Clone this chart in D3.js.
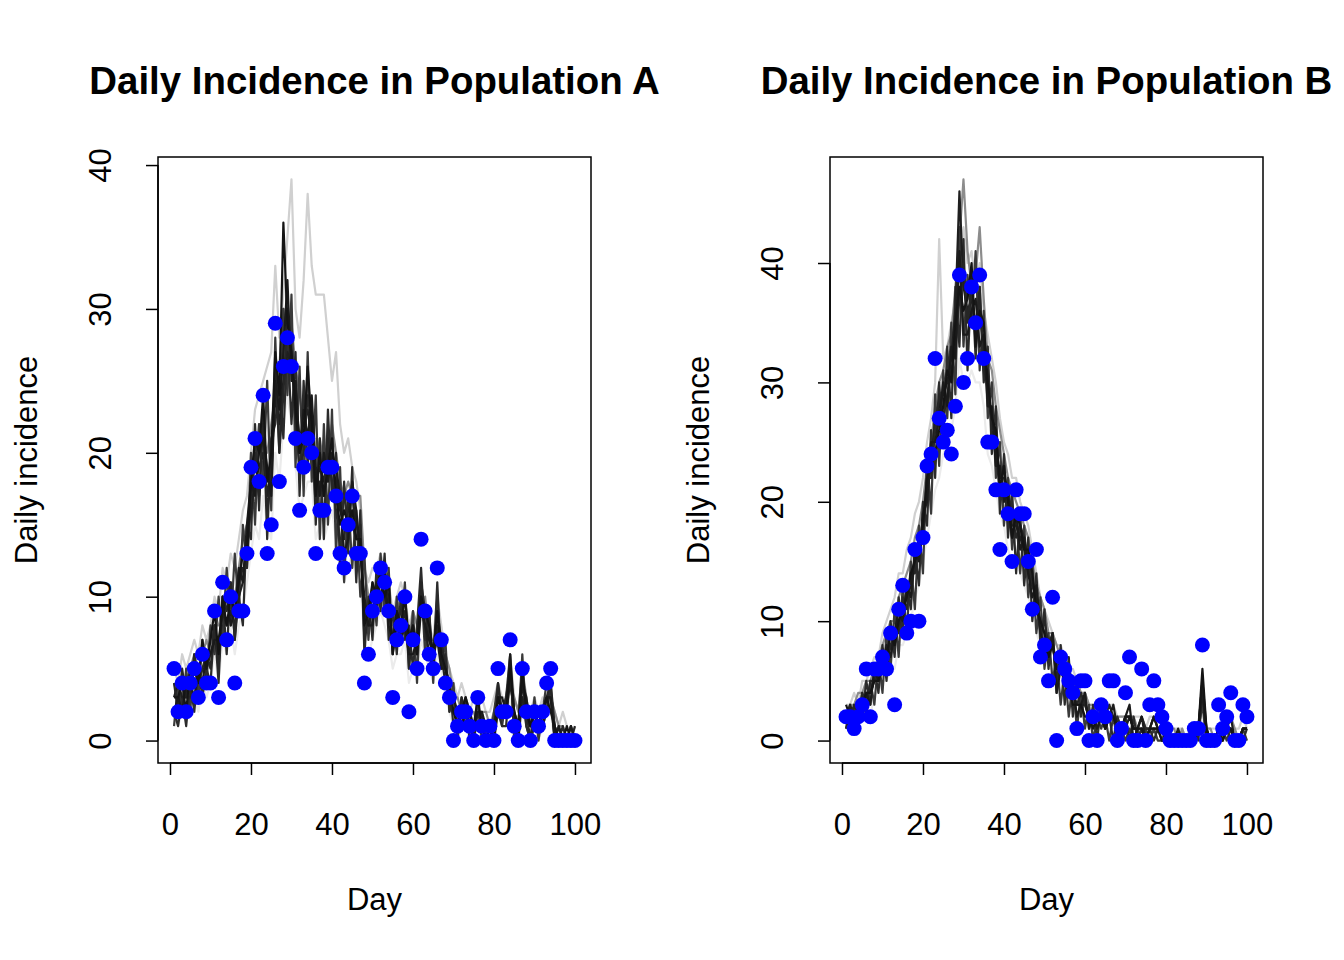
<!DOCTYPE html>
<html><head><meta charset="utf-8">
<script src="https://cdn.jsdelivr.net/npm/d3@7"></script>
<style>
body{margin:0;background:#fff}
svg{display:block}
text{font-family:"Liberation Sans",Arial,Helvetica,sans-serif;fill:#000}
</style>
</head><body>
<svg id="chart" width="1344" height="960"></svg>
<script>
// ---------- data ----------
const days = d3.range(1, 101);
const xTicks = [0, 20, 40, 60, 80, 100];
const yTicksA = [0, 10, 20, 30, 40];
const yTicksB = [0, 10, 20, 30, 40];
const titles = ["Daily Incidence in Population A", "Daily Incidence in Population B"];
const xLabel = "Day";
const yLabel = "Daily incidence";

// observed daily incidence (blue points)
const obsA = [5,2,4,2,4,5,3,6,4,4, 9,3,11,7,10,4,9,9,13,19, 21,18,24,13,15,29,18,26,28,26,
  21,16,19,21,20,13,16,16,19,19, 17,13,12,15,17,13,13,4,6,9, 10,12,11,9,3,7,8,10,2,7,
  5,14,9,6,5,12,7,4,3,0, 1,2,2,1,0,3,1,0,1,0, 5,2,2,7,1,0,5,2,0,2, 1,2,4,5,0,0,0,0,0,0];
const obsB = [2,2,1,2,3,6,2,6,6,7, 6,9,3,11,13,9,10,16,10,17, 23,24,32,27,25,26,24,28,39,30,
  32,38,35,39,32,25,25,21,16,21, 19,15,21,19,19,15,11,16,7,8, 5,12,0,7,6,5,4,1,5,5,
  0,2,0,3,2,5,5,0,1,4, 7,0,0,6,0,3,5,3,2,1, 0,0,0,0,0,0,1,1,8,0, 0,0,3,1,2,4,0,0,3,2];

// simulated trajectories, population A
const simA1 = [3,4,3,3,5,4,4,5,5,6, 7,6,9,8,9,8,10,11,14,16, 18,19,20,17,19,24,22,25,27,26,
  24,21,22,23,21,18,19,18,20,19, 18,16,15,16,17,15,14,9,8,9, 10,11,10,9,7,8,8,9,6,7,
  6,9,8,6,5,8,6,4,3,2, 2,2,2,1,1,2,1,1,1,1, 3,2,2,4,2,1,3,2,1,2, 1,2,3,3,1,0,0,0,0,0];
const simA2 = [4,2,5,3,3,6,4,5,6,5, 8,5,10,9,11,7,11,12,12,17, 20,17,22,16,18,26,20,24,30,27,
  22,19,20,24,22,16,18,17,21,18, 16,14,14,17,15,14,15,7,9,10, 9,12,11,10,6,8,9,10,5,8,
  6,11,9,7,6,9,7,5,4,1, 1,3,2,2,0,2,1,0,1,0, 4,2,3,5,1,1,4,2,0,2, 1,2,3,4,1,0,1,0,0,1];
const simA3 = [2,3,2,4,4,3,5,4,6,6, 7,7,9,10,8,9,12,11,15,18, 17,20,21,19,17,25,23,27,32,25,
  25,20,23,21,24,19,17,20,18,20, 19,17,13,14,18,16,13,10,8,8, 11,10,12,8,7,9,7,8,6,6,
  7,10,8,7,6,7,5,5,3,3, 2,1,2,1,1,2,2,1,0,1, 3,3,2,6,2,0,4,3,1,1, 2,1,3,3,0,1,0,0,1,0];
const simA4 = [3,3,4,2,5,5,4,7,5,7, 9,6,10,8,10,9,11,13,13,18, 21,20,24,18,20,27,24,36,29,27,
  23,20,21,26,22,17,20,17,19,21, 17,15,16,15,16,14,14,8,9,11, 10,12,10,11,6,9,8,10,7,8,
  6,10,9,8,6,9,6,5,4,2, 1,2,3,2,1,3,1,1,1,0, 3,2,2,5,2,1,5,2,1,2, 1,2,3,2,1,0,0,1,0,0];
const simA5 = [4,3,3,4,5,6,5,6,7,6, 8,8,9,11,10,10,12,14,15,17, 19,22,21,20,22,24,26,30,27,29,
  26,24,22,25,20,19,21,19,18,22, 20,18,17,18,17,17,17,12,10,9, 11,10,9,10,8,9,10,8,7,9,
  8,9,10,7,7,8,7,6,5,3, 3,2,3,2,2,1,2,2,1,2, 3,2,3,4,3,2,5,3,1,2, 2,1,2,3,2,1,1,0,1,0];
const simA6 = [5,4,6,5,6,7,6,8,7,8, 10,9,12,11,13,12,14,16,17,20, 23,24,25,26,27,33,28,31,35,39,
  30,28,32,38,33,31,31,31,28,25, 27,22,20,21,19,18,16,12,11,12, 12,13,12,11,9,10,11,10,8,9,
  8,10,9,8,7,10,8,6,5,4, 3,4,3,2,3,2,3,2,2,3, 4,3,3,6,3,2,4,2,2,3, 2,3,2,3,2,1,2,1,0,1];
const simA7 = [2,1,2,2,3,3,2,4,3,4, 6,4,7,6,8,6,8,9,11,13, 15,14,17,15,14,20,18,22,24,22,
  19,16,17,18,18,14,15,14,15,16, 14,12,11,12,13,11,11,7,6,7, 8,9,8,7,5,6,6,7,4,5,
  5,7,6,5,4,6,5,3,2,1, 0,1,1,0,0,1,0,0,0,0, 2,1,1,3,1,0,2,1,0,1, 0,1,2,2,0,0,0,0,0,0];
const simA8 = [1,4,2,5,2,6,3,7,4,8, 6,10,7,12,8,13,9,15,12,20, 15,22,18,25,16,28,20,30,24,31,
  19,26,17,27,18,24,14,22,15,23, 13,19,11,17,12,16,10,13,7,11, 8,13,9,12,6,10,7,11,5,9,
  4,11,6,9,4,10,5,7,2,4, 0,3,1,2,0,3,0,1,0,2, 4,1,3,6,0,1,6,1,0,3, 0,2,4,3,0,1,0,0,1,0];
const simA9 = [2,1,3,1,4,2,5,3,5,4, 8,4,10,6,11,7,10,8,15,14, 22,16,23,14,21,22,25,21,28,22,
  27,17,25,19,23,15,21,14,23,17, 20,12,18,13,19,11,16,6,10,7, 12,9,13,7,9,6,10,7,8,5,
  8,12,7,9,5,11,5,6,2,3, 1,1,3,0,1,1,2,0,1,0, 2,1,1,5,1,0,3,1,0,1, 1,1,2,4,0,0,0,0,0,0];

// simulated trajectories, population B
const simB1 = [2,3,2,3,3,4,4,5,6,6, 7,8,8,10,11,12,13,15,16,18, 21,23,27,28,29,30,32,36,46,38,
  36,37,35,36,33,29,27,25,22,22, 20,18,18,17,16,14,13,12,10,9, 8,8,6,6,5,5,4,3,3,3,
  2,2,2,2,1,2,2,1,1,1, 2,1,1,1,1,1,1,1,1,0, 0,0,1,0,0,0,1,1,4,1, 0,0,1,1,1,1,0,0,1,1];
const simB2 = [1,2,3,2,4,3,5,5,6,7, 6,8,9,9,12,11,14,14,17,17, 22,22,26,29,27,29,31,33,37,40,
  35,38,34,38,31,30,26,24,21,21, 19,19,17,18,17,15,13,12,9,10, 8,9,5,7,6,5,4,3,4,3,
  2,2,1,2,2,3,2,1,1,2, 2,1,1,2,1,1,2,1,1,1, 0,0,0,0,0,0,1,1,5,1, 0,0,1,0,1,1,0,0,1,1];
const simB3 = [2,2,1,3,2,4,3,6,5,6, 8,7,9,11,10,13,12,16,15,19, 20,25,25,27,30,28,33,32,41,34,
  34,36,37,33,34,28,28,23,23,20, 21,17,19,16,17,14,12,13,9,8, 7,9,4,6,5,4,5,2,3,4,
  1,2,1,2,1,2,3,1,1,2, 3,0,1,2,0,1,2,1,1,0, 0,0,0,0,0,0,0,1,5,0, 0,0,1,1,1,2,0,0,1,1];
const simB4 = [3,2,2,2,3,4,4,5,5,7, 7,9,8,10,11,12,14,15,16,18, 22,24,24,26,28,31,30,35,38,36,
  37,40,33,36,35,30,27,26,21,23, 20,17,19,18,16,16,14,11,10,9, 7,8,6,6,6,5,3,3,3,2,
  2,1,2,2,1,2,2,1,1,2, 2,1,1,1,0,1,1,1,0,0, 0,0,0,0,0,0,1,1,6,1, 0,0,1,0,1,1,0,0,1,1];
const simB5 = [2,3,3,4,4,5,5,6,7,8, 9,10,10,12,13,14,15,17,18,20, 23,25,28,30,31,33,34,38,42,47,
  41,38,39,43,37,32,31,28,26,24, 22,21,20,19,18,17,15,13,12,11, 9,9,8,7,7,6,5,5,4,4,
  3,3,2,3,2,2,2,2,2,2, 2,2,1,2,1,1,2,1,1,1, 1,1,0,1,0,1,1,1,3,1, 1,0,1,1,1,2,1,0,1,1];
const simB6 = [3,3,4,3,5,5,6,7,7,9, 10,11,12,14,14,16,17,19,20,22, 25,27,30,42,32,33,35,37,40,43,
  40,41,38,40,36,34,32,30,27,25, 24,22,22,20,19,18,16,14,12,11, 10,9,8,8,7,6,6,5,4,4,
  3,3,3,3,2,3,3,2,2,2, 2,2,2,2,1,2,2,1,1,1, 1,1,1,1,0,1,1,1,3,1, 1,1,1,1,1,1,1,1,2,1];
const simB7 = [1,1,1,2,2,3,2,4,4,5, 5,6,6,8,8,9,10,12,13,15, 17,19,21,22,24,25,26,28,32,30,
  30,31,30,30,28,24,23,21,19,18, 16,15,15,14,13,12,11,9,8,7, 6,6,4,5,4,4,3,2,2,2,
  1,1,1,1,1,1,1,0,0,1, 1,0,0,1,0,0,1,0,0,0, 0,0,0,0,0,0,0,0,2,0, 0,0,0,0,0,1,0,0,0,0];
const simB8 = [2,1,3,1,4,2,5,3,7,4, 9,6,11,7,13,9,15,11,18,14, 24,19,29,23,31,27,35,29,43,33,
  39,35,41,31,36,27,30,22,25,18, 22,16,19,14,18,12,15,9,12,6, 9,5,7,3,6,2,5,1,4,1,
  3,0,2,1,2,0,2,0,1,0, 1,0,1,0,1,0,1,0,0,1, 0,0,0,0,0,0,0,1,3,0, 0,0,0,1,0,1,0,0,1,0];
const simB9 = [1,3,1,3,2,5,3,6,4,8, 5,10,7,12,9,13,11,16,13,20, 18,26,22,30,25,33,27,38,33,42,
  31,39,32,38,30,33,24,28,19,24, 17,21,14,19,13,17,10,14,8,11, 6,9,4,8,3,7,2,5,2,4,
  1,3,0,3,1,2,0,2,1,2, 0,2,0,1,0,1,0,1,0,0, 0,0,0,0,0,0,1,0,4,0, 0,0,0,0,1,0,0,0,0,1];

// draw order: light first, dark last
const simColors = ["#ebebeb", "#d0d0d0", "#8c8c8c", "#3a3a3a", "#2b2b2b", "#1f1f1f", "#262626", "#1a1a1a", "#141414"];
const simSetA = [simA7, simA6, simA5, simA8, simA9, simA1, simA2, simA3, simA4];
const simSetB = [simB7, simB6, simB5, simB8, simB9, simB1, simB2, simB3, simB4];
const pointColor = "#0000ff";

// ---------- drawing ----------
const svg = d3.select("#chart");
const panels = [
  {title: titles[0], obs: obsA, sims: simSetA, yTicks: yTicksA, left: 158},
  {title: titles[1], obs: obsB, sims: simSetB, yTicks: yTicksB, left: 830}
];
const plotTop = 157, plotBottom = 763, plotWidth = 433;
const fontAxis = 31;

panels.forEach(p => {
  const g = svg.append("g");
  const right = p.left + plotWidth;
  const x = d3.scaleLinear().domain([1 - 0.04 * 99, 100 + 0.04 * 99]).range([p.left, right]);
  const M = d3.max([d3.max(p.obs), ...p.sims.map(s => d3.max(s))]);
  const y = d3.scaleLinear().domain([-0.04 * M, 1.04 * M]).range([plotBottom, plotTop]);

  const line = d3.line().x((d, i) => x(days[i])).y(d => y(d));
  p.sims.forEach((s, k) => {
    g.append("path").datum(s).attr("d", line)
      .attr("fill", "none").attr("stroke", simColors[k])
      .attr("stroke-width", 2.2).attr("stroke-linejoin", "round");
  });

  g.selectAll("circle.obs").data(p.obs).join("circle")
    .attr("class", "obs")
    .attr("cx", (d, i) => x(days[i])).attr("cy", d => y(d))
    .attr("r", 7.5).attr("fill", pointColor);

  // box
  g.append("rect").attr("x", p.left).attr("y", plotTop).attr("width", plotWidth).attr("height", plotBottom - plotTop)
    .attr("fill", "none").attr("stroke", "#000").attr("stroke-width", 1.5);

  // x axis
  const xa = g.append("g").attr("transform", `translate(0,${plotBottom})`)
    .call(d3.axisBottom(x).tickValues(xTicks).tickSize(12).tickSizeOuter(0).tickFormat(d3.format("d")));
  xa.select(".domain").remove();
  xa.append("line").attr("x1", x(xTicks[0])).attr("x2", x(xTicks[xTicks.length - 1]))
    .attr("stroke", "#000").attr("stroke-width", 1.5);
  xa.selectAll(".tick line").attr("stroke-width", 1.5);
  xa.selectAll(".tick text").attr("y", 72).attr("dy", null)
    .style("font-size", fontAxis + "px").style("font-family", '"Liberation Sans",Arial,sans-serif').attr("fill", "#000");

  // y axis
  const ya = g.append("g").attr("transform", `translate(${p.left},0)`)
    .call(d3.axisLeft(y).tickValues(p.yTicks).tickSize(12).tickSizeOuter(0).tickFormat(d3.format("d")));
  ya.select(".domain").remove();
  ya.append("line").attr("y1", y(p.yTicks[0])).attr("y2", y(p.yTicks[p.yTicks.length - 1]))
    .attr("stroke", "#000").attr("stroke-width", 1.5);
  ya.selectAll(".tick line").attr("stroke-width", 1.5);
  ya.selectAll(".tick text").attr("x", null).attr("dy", null)
    .attr("transform", "translate(-47,0) rotate(-90)").attr("text-anchor", "middle")
    .style("font-size", fontAxis + "px").style("font-family", '"Liberation Sans",Arial,sans-serif').attr("fill", "#000");

  // labels
  const cx = (p.left + right) / 2;
  g.append("text").attr("x", cx).attr("y", 94).attr("text-anchor", "middle")
    .style("font-size", "38.4px").style("font-weight", "bold").text(p.title);
  g.append("text").attr("x", cx).attr("y", 910).attr("text-anchor", "middle")
    .style("font-size", fontAxis + "px").text(xLabel);
  g.append("text").attr("transform", `translate(${p.left - 121},${(plotTop + plotBottom) / 2}) rotate(-90)`)
    .attr("text-anchor", "middle").style("font-size", fontAxis + "px").text(yLabel);
});
</script>
</body></html>
